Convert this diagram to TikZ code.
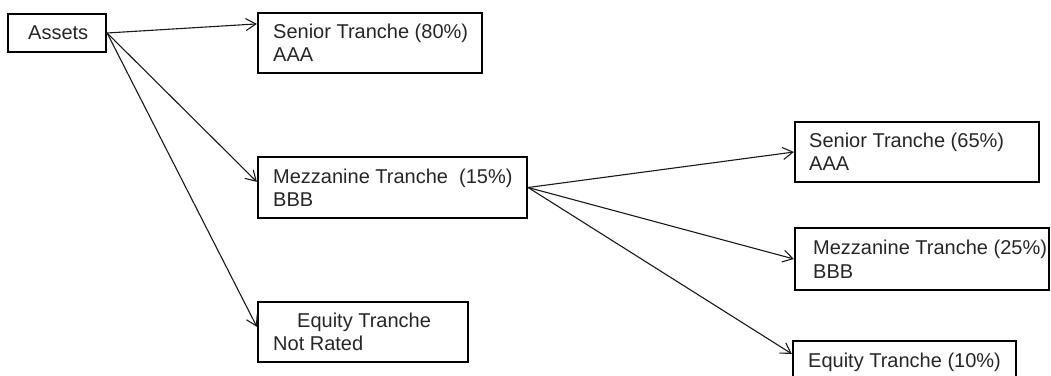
\documentclass[tikz,border=0pt]{standalone}
\usepackage{fontspec}
\setmainfont{Liberation Sans}
\usetikzlibrary{arrows.meta}
\begin{document}
\begin{tikzpicture}[x=1pt,y=-1pt,
  box/.style={draw=black, line width=2.2pt, fill=white, inner sep=0pt, rectangle},
  lbl/.style={inner sep=0pt, anchor=west, align=left, font=\fontsize{20}{23.5}\selectfont, text=black!85},
  conn/.style={draw=black!90, line width=1.1pt, -{Straight Barb[length=10pt,width=12pt,line width=1.1pt]}}]
\useasboundingbox (0,0) rectangle (1051,375);
\fill[white] (0,0) rectangle (1051,375);
% boxes
\node[box, minimum width=98pt, minimum height=38pt] (assets) at (57,33) {};
\node[box, minimum width=224pt, minimum height=60pt] (sen80) at (370,43) {};
\node[box, minimum width=269pt, minimum height=61pt] (mez15) at (392.5,187.5) {};
\node[box, minimum width=210pt, minimum height=60pt] (eq) at (363,332) {};
\node[box, minimum width=244pt, minimum height=60pt] (sen65) at (917,152) {};
\node[box, minimum width=254pt, minimum height=62pt] (mez25) at (922,259) {};
\node[box, minimum width=223pt, minimum height=44pt] (eq10) at (904.5,363) {};
% texts
\node[lbl] (tassets) at (28,33) {Assets};
\node[lbl] (tsen80) at (273,43) {Senior Tranche (80\%)\\AAA};
\node[lbl] (tmez15) at (273,187.5) {Mezzanine Tranche\ \ (15\%)\\BBB};
\node[lbl] (teq) at (273,332) {\hspace*{24pt}Equity Tranche\\Not Rated};
\node[lbl] (tsen65) at (809,152) {Senior Tranche (65\%)\\AAA};
\node[lbl] (tmez25) at (813,259) {Mezzanine Tranche (25\%)\\BBB};
\node[lbl, anchor=base west] (teq10) at (808,367) {Equity Tranche (10\%)};
% connectors
\draw[conn] (assets.east) -- ([yshift=-12pt]sen80.north west);
\draw[conn] (assets.east) -- ([yshift=-26pt]mez15.north west);
\draw[conn] (assets.east) -- ([yshift=-26pt]eq.north west);
\draw[conn] (mez15.east) -- (sen65.west);
\draw[conn] (mez15.east) -- (mez25.west);
\draw[conn] (mez15.east) -- ([yshift=-14pt]eq10.north west);
\end{tikzpicture}
\end{document}
